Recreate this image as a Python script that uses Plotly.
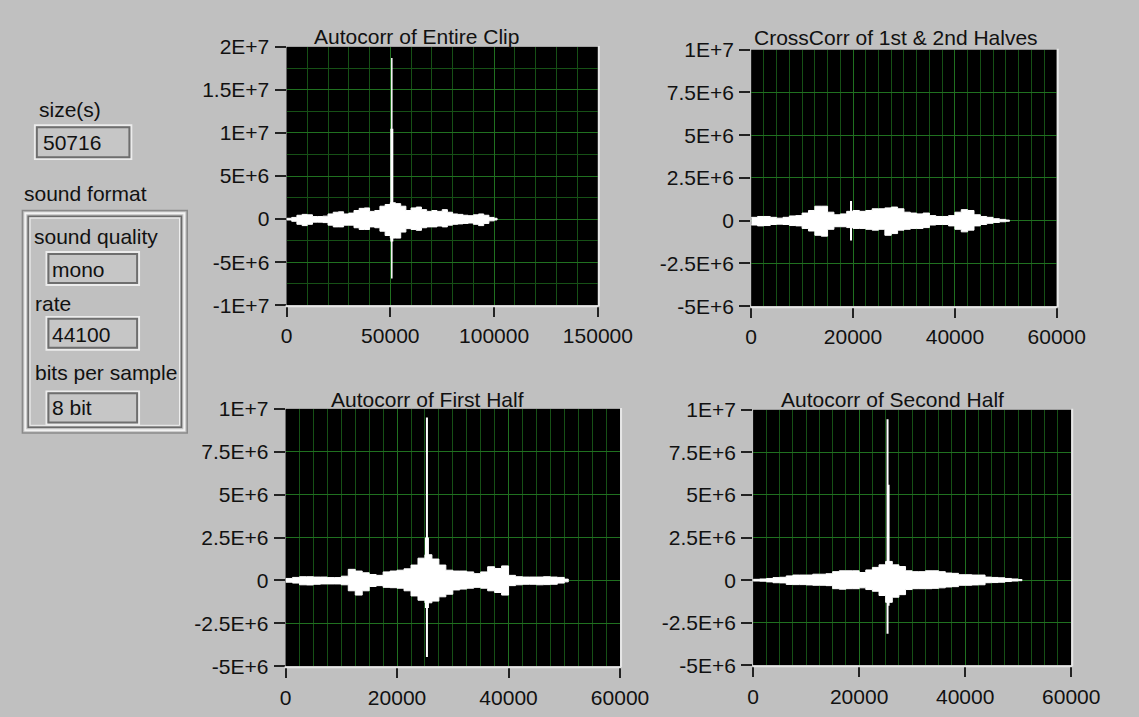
import plotly.graph_objects as go

W, H = 1139, 717
BG = "#c0c0c0"
FONT = "Liberation Sans"
FS = 21
GRID_MAJOR = "rgb(32,112,32)"
GRID_MINOR = "rgb(22,80,22)"

# ---------------- data (in units of 1E6) ----------------
# Plot 1: Autocorr of Entire Clip
p1_x = [0, 2500, 5000, 7500, 10000, 12500, 15000, 17500, 20000, 22500, 25000, 27500,
        30000, 32500, 35000, 37500, 40000, 42500, 45000, 47500, 50000, 52500, 55000,
        57500, 60000, 62500, 65000, 67500, 70000, 72500, 75000, 77500, 80000, 82500,
        85000, 87500, 90000, 92500, 95000, 97500, 100000, 101431]
p1_up = [0.1, 0.2, 0.45, 0.55, 0.5, 0.3, 0.3, 0.35, 0.6, 0.8, 0.85, 0.6,
         0.7, 1.0, 1.25, 1.3, 0.9, 1.0, 1.5, 1.7, 1.9, 1.8, 1.5,
         1.0, 1.3, 1.4, 1.1, 0.9, 1.0, 0.9, 1.1, 0.8, 0.6, 0.55,
         0.45, 0.4, 0.5, 0.6, 0.45, 0.2, 0.1, 0.0]
p1_lo = [-0.1, -0.25, -0.6, -0.75, -0.6, -0.35, -0.35, -0.4, -0.7, -0.9, -0.9, -0.7,
         -0.7, -1.0, -1.2, -1.2, -0.9, -1.0, -1.4, -1.9, -2.2, -2.2, -1.5,
         -1.1, -1.2, -1.3, -1.0, -0.9, -0.9, -0.8, -0.9, -0.7, -0.6, -0.55,
         -0.5, -0.45, -0.6, -0.75, -0.5, -0.2, -0.1, 0.0]
p1_spike_x = [50715]
p1_spike_hi = [18.7]
p1_spike_lo = [-6.9]
p1_core_hi = [10.5]
p1_core_lo = [-2.6]

# Plot 2: CrossCorr of 1st & 2nd Halves
half_x = [0, 1250, 2500, 3750, 5000, 6250, 7500, 8750, 10000, 11250, 12500, 13750,
          15000, 16250, 17500, 18750, 20000, 21250, 22500, 23750, 25000, 26250, 27500,
          28750, 30000, 31250, 32500, 33750, 35000, 36250, 37500, 38750, 40000, 41250,
          42500, 43750, 45000, 46250, 47500, 48750, 50000, 50715]
p2_up = [0.2, 0.25, 0.25, 0.2, 0.15, 0.2, 0.28, 0.3, 0.45, 0.6, 0.85, 0.85,
         0.5, 0.35, 0.4, 0.55, 0.6, 0.55, 0.6, 0.7, 0.7, 0.75, 0.8,
         0.7, 0.5, 0.45, 0.4, 0.45, 0.3, 0.25, 0.25, 0.3, 0.5, 0.65,
         0.6, 0.35, 0.25, 0.2, 0.12, 0.08, 0.04, 0.0]
p2_lo = [-0.25, -0.3, -0.28, -0.22, -0.2, -0.22, -0.28, -0.3, -0.45, -0.6, -0.85, -0.9,
         -0.5, -0.35, -0.35, -0.4, -0.45, -0.45, -0.5, -0.55, -0.5, -0.85, -0.75,
         -0.55, -0.5, -0.45, -0.45, -0.4, -0.25, -0.22, -0.22, -0.3, -0.5, -0.65,
         -0.55, -0.3, -0.22, -0.15, -0.1, -0.06, -0.03, 0.0]
p2_spike_x = [19600]
p2_spike_hi = [1.15]
p2_spike_lo = [-1.15]

# Plot 3: Autocorr of First Half
p3_up = [0.12, 0.18, 0.22, 0.22, 0.2, 0.2, 0.17, 0.17, 0.25, 0.65, 0.55, 0.45,
         0.35, 0.3, 0.5, 0.55, 0.6, 0.68, 0.9, 1.3, 1.5, 1.25, 0.9,
         0.6, 0.55, 0.55, 0.5, 0.4, 0.5, 0.8, 0.7, 0.85, 0.3, 0.22,
         0.2, 0.2, 0.2, 0.22, 0.2, 0.18, 0.08, 0.0]
p3_lo = [-0.1, -0.15, -0.25, -0.26, -0.22, -0.2, -0.2, -0.2, -0.25, -0.6, -0.85, -0.6,
         -0.35, -0.3, -0.4, -0.42, -0.45, -0.6, -0.9, -1.15, -1.3, -1.2, -0.95,
         -0.8, -0.55, -0.5, -0.45, -0.4, -0.45, -0.6, -0.7, -0.85, -0.3, -0.25,
         -0.22, -0.22, -0.25, -0.24, -0.22, -0.15, -0.08, 0.0]
p3_spike_x = [25357]
p3_spike_hi = [9.5]
p3_spike_lo = [-4.45]
p3_core_hi = [2.5]
p3_core_lo = [-1.6]

# Plot 4: Autocorr of Second Half
p4_up = [0.05, 0.07, 0.1, 0.15, 0.17, 0.25, 0.3, 0.3, 0.3, 0.35, 0.35, 0.38,
         0.5, 0.55, 0.55, 0.55, 0.45, 0.6, 0.75, 0.9, 1.1, 0.9, 0.8,
         0.55, 0.5, 0.5, 0.55, 0.55, 0.5, 0.42, 0.4, 0.32, 0.32, 0.3,
         0.3, 0.18, 0.16, 0.14, 0.1, 0.07, 0.04, 0.0]
p4_lo = [-0.05, -0.06, -0.1, -0.15, -0.16, -0.25, -0.26, -0.26, -0.28, -0.3, -0.3, -0.32,
         -0.5, -0.53, -0.5, -0.5, -0.45, -0.55, -0.65, -0.9, -1.3, -1.0, -0.85,
         -0.55, -0.5, -0.5, -0.5, -0.48, -0.45, -0.4, -0.38, -0.3, -0.3, -0.28,
         -0.27, -0.15, -0.14, -0.12, -0.08, -0.05, -0.03, 0.0]
p4_spike_x = [25357]
p4_spike_hi = [9.45]
p4_spike_lo = [-3.15]
p4_core_x = [25550]
p4_core_hi = [5.6]
p4_core_lo = [-1.5]

# tick labels
p1_xtick = [0, 50000, 100000, 150000]
p1_xlab = ["0", "50000", "100000", "150000"]
p1_ytick = [-1e7, -5e6, 0, 5e6, 1e7, 1.5e7, 2e7]
p1_ylab = ["-1E+7", "-5E+6", "0", "5E+6", "1E+7", "1.5E+7", "2E+7"]
h_xtick = [0, 20000, 40000, 60000]
h_xlab = ["0", "20000", "40000", "60000"]
h_ytick = [-5e6, -2.5e6, 0, 2.5e6, 5e6, 7.5e6, 1e7]
h_ylab = ["-5E+6", "-2.5E+6", "0", "2.5E+6", "5E+6", "7.5E+6", "1E+7"]

titles = ["Autocorr of Entire Clip", "CrossCorr of 1st & 2nd Halves",
          "Autocorr of First Half", "Autocorr of Second Half"]

# ---------------- layout geometry (pixels) ----------------
def px(x):
    return x / W

def py(y):
    return 1 - y / H

boxes = {  # left, top, right, bottom in pixels
    1: (291, 36, 614, 303),
    2: (773, 39, 1090, 304),
    3: (290, 410, 637, 676),
    4: (775, 411, 1105, 675),
}
title_pos = {1: (426, 25), 2: (923, 26), 3: (437, 400), 4: (920, 400)}

fig = go.Figure()

def sc(v):
    return [a * 1e6 for a in v]

def add_env(n, xs, up, lo):
    xa = "x" if n == 1 else f"x{n}"
    ya = "y" if n == 1 else f"y{n}"
    fig.add_trace(go.Scatter(x=xs, y=sc(lo), mode="lines", line=dict(color="white", width=1, shape="hv"),
                             xaxis=xa, yaxis=ya, hoverinfo="skip"))
    fig.add_trace(go.Scatter(x=xs, y=sc(up), mode="lines", line=dict(color="white", width=1, shape="hv"),
                             fill="tonexty", fillcolor="white", xaxis=xa, yaxis=ya, hoverinfo="skip"))

def add_spike(n, xs, lo, hi, width):
    xa = "x" if n == 1 else f"x{n}"
    ya = "y" if n == 1 else f"y{n}"
    for sx, l, h in zip(xs, lo, hi):
        fig.add_trace(go.Scatter(x=[sx, sx], y=[l * 1e6, h * 1e6], mode="lines",
                                 line=dict(color="white", width=width),
                                 xaxis=xa, yaxis=ya, hoverinfo="skip"))

add_env(1, p1_x, p1_up, p1_lo)
add_spike(1, p1_spike_x, p1_spike_lo, p1_spike_hi, 1.5)
add_spike(1, p1_spike_x, p1_core_lo, p1_core_hi, 3)

add_env(2, half_x, p2_up, p2_lo)
add_spike(2, p2_spike_x, p2_spike_lo, p2_spike_hi, 2)

add_env(3, half_x, p3_up, p3_lo)
add_spike(3, p3_spike_x, p3_spike_lo, p3_spike_hi, 2)
add_spike(3, p3_spike_x, p3_core_lo, p3_core_hi, 4)

add_env(4, half_x, p4_up, p4_lo)
add_spike(4, p4_spike_x, p4_spike_lo, p4_spike_hi, 2)
add_spike(4, p4_core_x, p4_core_lo, p4_core_hi, 2)

tickfont = dict(family=FONT, size=FS, color="#111111")

axis_cfg = {
    1: dict(xr=[0, 150000], yr=[-1e7, 2e7], xt=p1_xtick, xl=p1_xlab, yt=p1_ytick, yl=p1_ylab,
            xminor=list(range(0, 150001, 10000)), yminor=[-7.5e6, -2.5e6, 2.5e6, 7.5e6, 1.25e7, 1.75e7]),
    2: dict(xr=[0, 60000], yr=[-5e6, 1e7], xt=h_xtick, xl=h_xlab, yt=h_ytick, yl=h_ylab,
            xminor=list(range(0, 60001, 2500)), yminor=[]),
    3: dict(xr=[0, 60000], yr=[-5e6, 1e7], xt=h_xtick, xl=h_xlab, yt=h_ytick, yl=h_ylab,
            xminor=list(range(0, 60001, 2500)), yminor=[]),
    4: dict(xr=[0, 60000], yr=[-5e6, 1e7], xt=h_xtick, xl=h_xlab, yt=h_ytick, yl=h_ylab,
            xminor=list(range(0, 60001, 2500)), yminor=[]),
}

layout = dict(
    width=W, height=H, autosize=False,
    margin=dict(l=0, r=0, t=0, b=0),
    paper_bgcolor=BG, plot_bgcolor="black",
    showlegend=False,
    font=dict(family=FONT, size=FS, color="#111111"),
)

annotations = []
shapes = []
for n, (l, t, r, b) in boxes.items():
    c = axis_cfg[n]
    xk = "xaxis" if n == 1 else f"xaxis{n}"
    yk = "yaxis" if n == 1 else f"yaxis{n}"
    ya = "y" if n == 1 else f"y{n}"
    xa = "x" if n == 1 else f"x{n}"
    layout[xk] = dict(
        domain=[px(l), px(r)], anchor=ya, range=c["xr"], fixedrange=True,
        tickmode="array", tickvals=c["xt"], ticktext=c["xl"],
        ticks="outside", ticklen=11, tickwidth=2, tickcolor="#222222",
        tickfont=tickfont, ticklabelstandoff=1,
        showgrid=True, gridcolor=GRID_MAJOR, gridwidth=1, zeroline=False, showline=False,
        minor=dict(tickmode="array", tickvals=c["xminor"], showgrid=True,
                   gridcolor=GRID_MINOR, gridwidth=1, ticks=""),
    )
    layout[yk] = dict(
        domain=[py(b), py(t)], anchor=xa, range=c["yr"], fixedrange=True,
        tickmode="array", tickvals=c["yt"], ticktext=c["yl"],
        ticks="outside", ticklen=11, tickwidth=1.5, tickcolor="#222222",
        tickfont=tickfont, ticklabelstandoff=1,
        showgrid=True, gridcolor=GRID_MAJOR, gridwidth=1, zeroline=False, showline=False,
        minor=dict(tickmode="array", tickvals=c["yminor"], showgrid=True,
                   gridcolor=GRID_MINOR, gridwidth=1, ticks=""),
    )
    tx, ty = title_pos[n]
    annotations.append(dict(text=titles[n - 1], x=px(tx), y=py(ty), xref="paper", yref="paper",
                            xanchor="center", yanchor="middle", showarrow=False,
                            font=dict(family=FONT, size=FS, color="#111111")))
    # 3D frame edges of the plot area (light right and bottom)
    shapes.append(dict(type="line", xref="paper", yref="paper", x0=px(l - 1), x1=px(r + 1),
                       y0=py(b + 1), y1=py(b + 1), line=dict(color="#e6e6e6", width=2)))
    shapes.append(dict(type="line", xref="paper", yref="paper", x0=px(r + 1), x1=px(r + 1),
                       y0=py(b + 1), y1=py(t - 1), line=dict(color="#e6e6e6", width=2)))

# ---------------- left control panel ----------------
def rect(x0, y0, x1, y1, color, width, fill=None):
    d = dict(type="rect", xref="paper", yref="paper", x0=px(x0), x1=px(x1), y0=py(y1), y1=py(y0),
             line=dict(color=color, width=width), layer="above")
    if fill:
        d["fillcolor"] = fill
        d["layer"] = "below"
    return d

def indicator(x0, y0, x1, y1):
    return [rect(x0, y0, x1, y1, "#ececec", 2, fill="#c6c6c6"),
            rect(x0 + 2, y0 + 2, x1 - 2, y1 - 2, "#6e6e6e", 2)]

# cluster frame
shapes.append(rect(17, 205, 188, 435, "#8a8a8a", 1.5))
shapes.append(rect(20, 208, 185, 432, "#f2f2f2", 2))
shapes.append(rect(23, 211, 182, 429, "#6a6a6a", 1.5))
shapes.append(rect(25, 213, 180, 427, "#efefef", 1))

shapes += indicator(30, 117, 130, 152)
shapes += indicator(42, 248, 138, 282)
shapes += indicator(42, 315, 138, 349)
shapes += indicator(42, 392, 138, 426)

panel_labels = [("size(s)", 32, 101), ("50716", 36, 135), ("sound format", 17, 187),
                ("sound quality", 27, 232), ("mono", 46, 266), ("rate", 28, 301),
                ("44100", 46, 333), ("bits per sample", 28, 372), ("8 bit", 46, 409)]
for txt, x, y in panel_labels:
    annotations.append(dict(text=txt, x=px(x), y=py(y), xref="paper", yref="paper",
                            xanchor="left", yanchor="middle", showarrow=False,
                            font=dict(family=FONT, size=FS, color="#111111")))

layout["annotations"] = annotations
layout["shapes"] = shapes
fig.update_layout(**layout)

POST = ("document.documentElement.style.margin='0';document.documentElement.style.padding='0';"
        "document.documentElement.style.overflow='hidden';"
        "document.body.style.margin='0';document.body.style.padding='0';"
        "document.body.style.overflow='hidden';")
fig.write_html("out.html", post_script=POST)
